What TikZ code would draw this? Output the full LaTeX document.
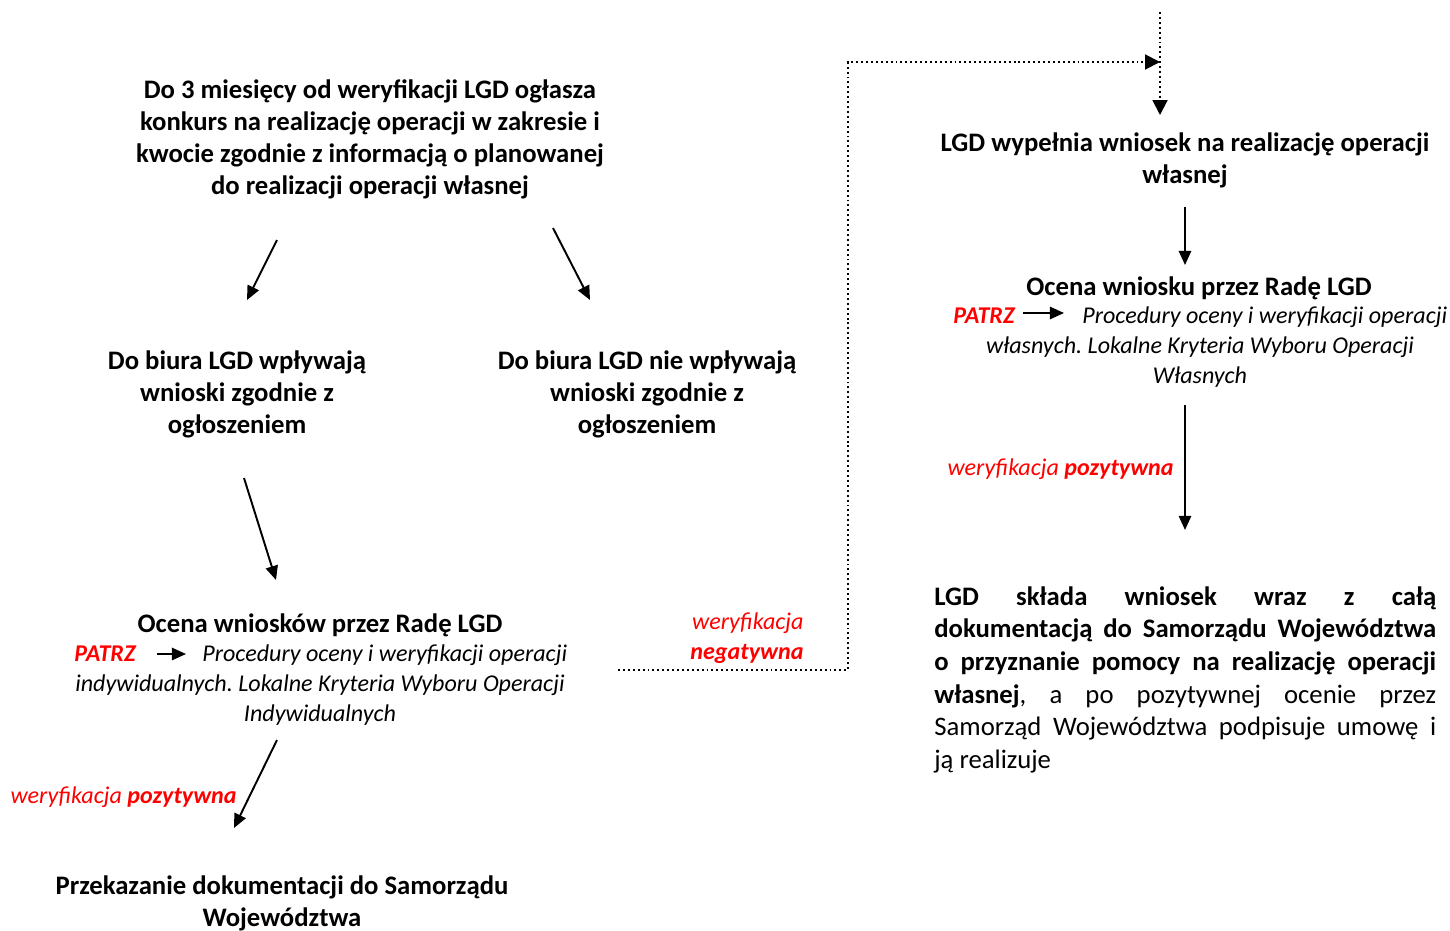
\documentclass[tikz,border=0pt]{standalone}
\usepackage{fontspec}
\setmainfont{Carlito}
\usetikzlibrary{arrows.meta}
\frenchspacing
\tikzset{
	krok/.style={font=\fontsize{15.2}{18.2}\selectfont\bfseries, align=center, inner sep=0pt},
	opis/.style={font=\fontsize{13.7}{17}\selectfont\itshape, align=center, inner sep=0pt},
	wynik/.style={font=\fontsize{13.7}{17}\selectfont\itshape, text=red, inner sep=0pt},
	strzalka/.style={line width=1.1pt, -{Triangle[length=8pt,width=7pt]}},
	kropki/.style={line width=1.1pt, dash pattern=on 1.1pt off 1.7pt, -{Triangle[length=8.5pt,width=8.5pt]}},
}

\begin{document}
\begin{tikzpicture}[x=0.02cm,y=-0.02cm]
		\useasboundingbox (0,0) rectangle (1450,930);
		
		% lewa kolumna
		\node[krok] (ogloszenie) at (370,139) {Do 3 miesięcy od weryfikacji LGD ogłasza\\konkurs na realizację operacji w zakresie i\\kwocie zgodnie z informacją o planowanej\\do realizacji operacji własnej};
		\node[krok] (wplywaja) at (237,394) {Do biura LGD wpływają\\wnioski zgodnie z\\ogłoszeniem};
		\node[krok] (niewplywaja) at (647,394) {Do biura LGD nie wpływają\\wnioski zgodnie z\\ogłoszeniem};
		\node[krok] (ocenaL) at (320,625) {Ocena wniosków przez Radę LGD};
		\node[opis, anchor=base, text=red, font=\fontsize{13.7}{17}\selectfont\bfseries\itshape] (patrzL) at (105,661) {PATRZ};
		\node[opis, anchor=base west] (procL) at (202,661) {Procedury oceny i weryfikacji operacji};
		\node[opis] (kryteriaL) at (320,700) {indywidualnych. Lokalne Kryteria Wyboru Operacji\\Indywidualnych};
		\node[wynik, anchor=base east] (pozL) at (237,803) {weryfikacja \textbf{pozytywna}};
		\node[krok] (przekazanie) at (282,903) {Przekazanie dokumentacji do Samorządu\\Województwa};
		\node[wynik, align=right] (negatywna) at (747,638) {weryfikacja\\\textbf{negatywna}};
		
		% prawa kolumna
		\node[krok] (wypelnia) at (1185,160) {LGD wypełnia wniosek na realizację operacji\\własnej};
		\node[krok] (ocenaP) at (1199,288) {Ocena wniosku przez Radę LGD};
		\node[opis, anchor=base, text=red, font=\fontsize{13.7}{17}\selectfont\bfseries\itshape] (patrzP) at (984,323) {PATRZ};
		\node[opis, anchor=base west] (procP) at (1082,323) {Procedury oceny i weryfikacji operacji};
		\node[opis] (kryteriaP) at (1200,362) {własnych. Lokalne Kryteria Wyboru Operacji\\Własnych};
		\node[wynik, anchor=base east] (pozP) at (1174,475) {weryfikacja \textbf{pozytywna}};
		\node[font=\fontsize{15.2}{18.6}\selectfont, text width=10.04cm, align=justify, inner sep=0pt, anchor=north west] (sklada) at (934,586)
			{\textbf{LGD składa wniosek wraz z całą\linebreak dokumentacją do Samorządu Województwa\linebreak o przyznanie pomocy na realizację operacji\linebreak własnej}, a po pozytywnej ocenie przez\linebreak Samorząd Województwa podpisuje umowę i\linebreak ją realizuje};
		
		% punkty strzalek
		\coordinate (s1a) at (277,240); \coordinate (s1b) at (247,300);
		\coordinate (s2a) at (553,228); \coordinate (s2b) at (590,300);
		\coordinate (s3a) at (244,478); \coordinate (s3b) at (276,580);
		\coordinate (s4a) at (277,740); \coordinate (s4b) at (234,828);
		\coordinate (s5a) at (1185,207); \coordinate (s5b) at (1185,265);
		\coordinate (s6a) at (1185,405); \coordinate (s6b) at (1185,530);
		\coordinate (pLa) at (157,654); \coordinate (pLb) at (186,654);
		\coordinate (pPa) at (1023,313); \coordinate (pPb) at (1064,313);
		\coordinate (negStart) at (618,670);
		\coordinate (negRog) at (848,670);
		\coordinate (negGora) at (848,62);
		\coordinate (wejscie) at (1160,12);
		\coordinate (wejscieKon) at (1160,115);
		
		\draw[strzalka] (s1a) -- (s1b);
		\draw[strzalka] (s2a) -- (s2b);
		\draw[strzalka] (s3a) -- (s3b);
		\draw[strzalka] (s4a) -- (s4b);
		\draw[strzalka] (s5a) -- (s5b);
		\draw[strzalka] (s6a) -- (s6b);
		\draw[strzalka] (pLa) -- (pLb);
		\draw[strzalka] (pPa) -- (pPb);
		
		% sciezka po weryfikacji negatywnej
		\draw[kropki] (negStart) -- (negRog) -- (negGora) -- (wejscie |- negGora);
		\draw[kropki] (wejscie) -- (wejscieKon);
\end{tikzpicture}
\end{document}
